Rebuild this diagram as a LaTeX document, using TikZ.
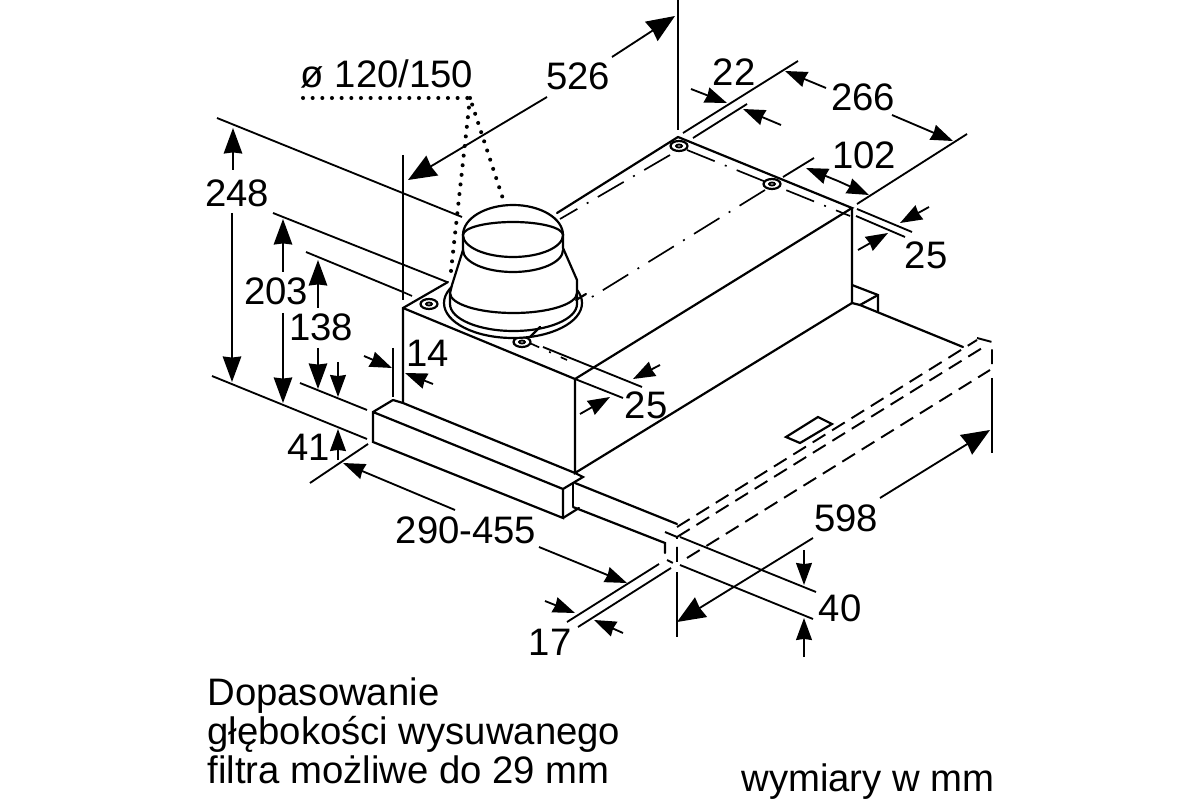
\documentclass[tikz,border=0pt]{standalone}
\usepackage{fontspec}
\setmainfont{Liberation Sans}
\usetikzlibrary{arrows.meta}
\tikzset{
	edge/.style={line width=1.25pt,line cap=round},
	ext/.style={line width=1.05pt},
	hidden/.style={line width=1.1pt,dash pattern=on 8.5pt off 4.5pt},
	axisline/.style={line width=0.95pt,dash pattern=on 17pt off 6.2pt on 1.1pt off 6.2pt},
	dotline/.style={line width=2.3pt,line cap=round,dash pattern=on 0pt off 5.5pt},
	hugedim/.style={line width=1.05pt,-{Stealth[length=16pt,width=13pt,inset=0.8pt]}},
	bigdim/.style={line width=1.05pt,-{Stealth[length=14.5pt,width=10.5pt,inset=0.6pt]}},
	dim/.style={line width=1.05pt,-{Stealth[length=12.5pt,width=9pt,inset=0.6pt]}},
	lab/.style={font=\fontsize{21.8}{26}\selectfont,inner sep=0pt},
	note/.style={lab,anchor=base west}
}
\begin{document}
\begin{tikzpicture}[x=0.02cm,y=-0.02cm]
\useasboundingbox (0,0) rectangle (1200,800);
% center lines on the housing
\draw[axisline] (765,190) -- (587,300);
\draw[axisline] (670,155) -- (560,219);
\draw[axisline] (687,150) -- (850,216);
\draw[axisline] (403,292) -- (412,296);
\draw[axisline] (512,335) -- (567,360);
% housing
\draw[edge] (403,403) -- (403,308) -- (448,282);
\draw[edge] (557,213) -- (678,137) -- (852,208) -- (575,379) -- (403,308);
\draw[edge] (852,208) -- (852,303) -- (575,473) -- (575,379);
% front strip
\draw[edge] (393,400) -- (373,412) -- (373,442) -- (563,518) -- (563,489) -- (373,412);
\draw[edge] (393,400) -- (403,403) -- (575,473) -- (583,477) -- (563,489);
\draw[edge] (563,518) -- (579,508);
\draw[edge] (573,484) -- (573,506);
% filter
\draw[edge] (575,483) -- (677,524);
\draw[edge] (573,507) -- (665,543) -- (665,553);
\draw[edge] (860,305) -- (963,347);
\draw[edge] (852,285) -- (878,295) -- (878,312);
\draw[edge] (860,305) -- (878,295);
\draw[edge] (852,303) -- (860,305);
\draw[edge] (786,437) -- (818,417) -- (832,424) -- (800,443) -- cycle;
\draw[hidden] (677,527) -- (977,340);
\draw[hidden] (677,537) -- (987,345);
\draw[hidden] (687,558) -- (990,370);
\draw[hidden] (977,338) -- (992,342) -- (992,372);
\draw[hidden] (665,532) -- (677,537) -- (677,565) -- (667,560);
% bolts
\foreach \bx/\by in {429/304,522/342,679/146,772/184}{
	\draw[edge,fill=white] (\bx,\by) ellipse [x radius=8.5,y radius=5];
	\draw[ext] (\bx,\by) ellipse [x radius=3,y radius=1.5];
}
% collar
\draw[edge,fill=white] (513,303) ellipse [x radius=69,y radius=35];
\draw[edge,fill=white] (463,235) -- (463,250) -- (452,285) -- (450,293) -- (450,304)
	arc [start angle=180,end angle=0,x radius=63.5,y radius=27] -- (577,280) -- (563,248) -- (563,235) -- cycle;
\draw[edge] (450,293) arc [start angle=180,end angle=0,x radius=63.5,y radius=20];
\draw[edge] (463,250) arc [start angle=180,end angle=0,x radius=50,y radius=22];
\draw[edge,fill=white] (463,235) arc [start angle=180,end angle=360,x radius=50,y radius=30]
	arc [start angle=0,end angle=180,x radius=50,y radius=22];
\draw[edge] (463,235) arc [start angle=180,end angle=360,x radius=50,y radius=13];
\draw[edge] (530,337) -- (540,327);
\draw[edge] (576,300) -- (586,294);
% extension lines
\draw[ext] (678,0) -- (678,130);
\draw[ext] (403,155) -- (403,300);
\draw[ext] (217,118) -- (462,217);
\draw[ext] (273,213) -- (447,282);
\draw[ext] (306,252) -- (403,292);
\draw[ext] (212,376) -- (367,439);
\draw[ext] (300,383) -- (367,410);
\draw[ext] (393,348) -- (393,397);
\draw[ext] (310,483) -- (368,444);
\draw[ext] (567,622) -- (659,564);
\draw[ext] (578,627) -- (671,568);
\draw[ext] (683,133) -- (798,61);
\draw[ext] (693,138) -- (747,104);
\draw[ext] (857,204) -- (967,134);
\draw[ext] (783,177) -- (814,158);
\draw[ext] (857,209) -- (912,232);
\draw[ext] (856,216) -- (905,237);
\draw[ext] (543,347) -- (642,387);
\draw[ext] (575,379) -- (623,398);
\draw[ext] (992,378) -- (992,453);
\draw[ext] (677,572) -- (677,637);
\draw[ext] (680,537) -- (816,592);
\draw[ext] (680,565) -- (813,619);
% dimension arrows
\draw[hugedim] (612,57) -- (675,16);
\draw[hugedim] (547,97) -- (408,180);
\draw[bigdim] (233,170) -- (233,128);
\draw[bigdim] (232,213) -- (232,382);
\draw[bigdim] (283,272) -- (283,219);
\draw[bigdim] (283,313) -- (283,403);
\draw[bigdim] (318,308) -- (318,260);
\draw[bigdim] (318,348) -- (318,389);
\draw[hugedim] (880,498) -- (990,430);
\draw[hugedim] (813,538) -- (677,622);
\draw[dim] (338,362) -- (338,397);
\draw[dim] (364,356) -- (392,368);
\draw[dim] (433,384) -- (405,373);
\draw[dim] (338,460) -- (338,429);
\draw[dim] (455,510) -- (343,463);
\draw[dim] (539,547) -- (627,583);
\draw[dim] (545,601) -- (575,613);
\draw[dim] (623,633) -- (594,620);
\draw[dim] (691,89) -- (727,103);
\draw[dim] (781,125) -- (743,109);
\draw[dim] (826,88) -- (785,71);
\draw[dim] (892,115) -- (953,141);
\draw[dim] (838,181) -- (806,168);
\draw[dim] (838,181) -- (869,195);
\draw[dim] (929,207) -- (900,223);
\draw[dim] (858,250) -- (888,233);
\draw[dim] (660,365) -- (633,379);
\draw[dim] (580,414) -- (610,397);
\draw[dim] (804,550) -- (804,585);
\draw[dim] (804,657) -- (804,618);
% duct note
\draw[dotline] (303,98) -- (470,98) -- (505,205);
\draw[dotline] (470,98) -- (450,280);
\node[lab] (ductsize) at (387,74) {ø 120/150};
% dimension labels
\node[lab] (w526) at (578,76) {526};
\node[lab] (h248) at (237,193) {248};
\node[lab] (h203) at (276,291) {203};
\node[lab] (h138) at (321,327) {138};
\node[lab] (t14) at (428,353) {14};
\node[lab] (h41) at (309,447) {41};
\node[lab] (d290) at (466,530) {290-455};
\node[lab] (t17) at (550,642) {17};
\node[lab] (w598) at (846,518) {598};
\node[lab] (h40) at (840,608) {40};
\node[lab] (t22) at (734,72) {22};
\node[lab] (d266) at (863,97) {266};
\node[lab] (d102) at (864,155) {102};
\node[lab] (t25a) at (926,255) {25};
\node[lab] (t25b) at (646,405) {25};
% notes
\node[note] (noteone) at (207,705) {Dopasowanie};
\node[note] (notetwo) at (207,744) {głębokości wysuwanego};
\node[note] (notethree) at (207,783) {filtra możliwe do 29 mm};
\node[note] (unitnote) at (741,791) {wymiary w mm};
\end{tikzpicture}
\end{document}
